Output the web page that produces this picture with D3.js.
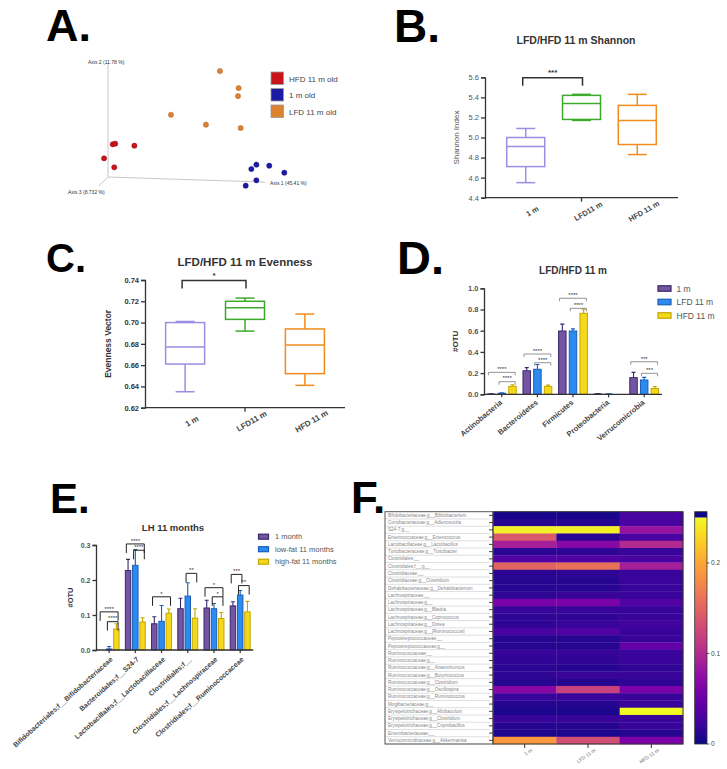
<!DOCTYPE html>
<html><head><meta charset="utf-8">
<script src="https://cdn.jsdelivr.net/npm/d3@7"></script>
<style>body{margin:0;background:#fff}svg{display:block}text{font-family:"Liberation Sans",Arial,Helvetica,sans-serif}</style>
</head><body><svg id="c" width="727" height="769"></svg>
<script>
// ================= DATA =================
// Panel A : PCoA (projected coordinates, fraction of drawn axis length)
const pcoaGroups = ["HFD 11 m old", "1 m old", "LFD 11 m old"];
const pcoaHFD_ax1 = [0.03, 0.046, 0.168, -0.025, 0.04];
const pcoaHFD_ax2 = [0.287, 0.292, 0.275, 0.164, 0.085];
const pcoa1m_ax1 = [0.913, 0.945, 1.027, 1.123, 0.945, 0.877];
const pcoa1m_ax2 = [0.07, 0.108, 0.099, 0.038, -0.029, -0.076];
const pcoaLFD_ax1 = [0.713, 0.832, 0.828, 0.401, 0.624, 0.845];
const pcoaLFD_ax2 = [0.93, 0.78, 0.71, 0.546, 0.459, 0.43];
const pcoaAxisLabels = ["Axis 1 (45.41 %)", "Axis 2 (11.78 %)", "Axis 3 (8.732 %)"];

// Panels B, C : box plots
const alphaGroups = ["1 m", "LFD11 m", "HFD 11 m"];
const shannonMin = [4.55, 5.17, 4.83];
const shannonQ1 = [4.71, 5.18, 4.93];
const shannonMed = [4.91, 5.34, 5.17];
const shannonQ3 = [5.00, 5.42, 5.32];
const shannonMax = [5.09, 5.43, 5.43];
const shannonTicks = [4.4, 4.6, 4.8, 5.0, 5.2, 5.4, 5.6];
const evenMin = [0.635, 0.692, 0.641];
const evenQ1 = [0.661, 0.703, 0.652];
const evenMed = [0.677, 0.714, 0.679];
const evenQ3 = [0.700, 0.720, 0.694];
const evenMax = [0.701, 0.723, 0.708];
const evenTicks = [0.62, 0.64, 0.66, 0.68, 0.70, 0.72, 0.74];

// Panel D : phyla
const phyla = ["Actinobacteria", "Bacteroidetes", "Firmicutes", "Proteobacteria", "Verrucomicrobia"];
const phylaSeries = ["1 m", "LFD 11 m", "HFD 11 m"];
const phylum1m = [0.003, 0.222, 0.597, 0.004, 0.157];
const phylumLFD = [0.010, 0.236, 0.597, 0.003, 0.135];
const phylumHFD = [0.075, 0.075, 0.764, 0.0, 0.055];
const phylum1mErr = [0.002, 0.03, 0.065, 0.002, 0.05];
const phylumLFDErr = [0.005, 0.045, 0.02, 0.002, 0.025];
const phylumHFDErr = [0.015, 0.012, 0.04, 0.0, 0.018];
const phylaTicks = [0, 0.2, 0.4, 0.6, 0.8, 1.0];
// significance: [category, series a, series b, level, label]
const phylaSig = [[0, 0, 2, 0.207, "****"], [0, 1, 2, 0.119, "****"], [1, 0, 2, 0.38, "****"], [1, 1, 2, 0.298, "****"],
  [2, 0, 2, 0.906, "****"], [2, 1, 2, 0.811, "****"], [4, 0, 2, 0.307, "***"], [4, 1, 2, 0.198, "***"]];

// Panel E : families
const families = ["Bifidobacteriales;f__Bifidobacteriaceae", "Bacteroidales;f__S24-7", "Lactobacillales;f__Lactobacillaceae",
  "Clostridiales;f__", "Clostridiales;f__Lachnospiraceae", "Clostridiales;f__Ruminococcaceae"];
const famSeries = ["1 month", "low-fat 11 months", "high-fat 11 months"];
const fam1m = [0.0, 0.227, 0.075, 0.118, 0.12, 0.126];
const famLFD = [0.003, 0.242, 0.082, 0.154, 0.118, 0.157];
const famHFD = [0.06, 0.08, 0.105, 0.091, 0.09, 0.109];
const fam1mErr = [0.0, 0.032, 0.02, 0.03, 0.022, 0.012];
const famLFDErr = [0.007, 0.045, 0.045, 0.038, 0.015, 0.013];
const famHFDErr = [0.015, 0.012, 0.012, 0.027, 0.017, 0.03];
const famTicks = [0.0, 0.1, 0.2, 0.3];
const famSig = [[0, 0, 2, 0.109, "****"], [0, 1, 2, 0.081, "****"], [1, 0, 2, 0.303, "****"], [1, 1, 2, 0.285, "****"],
  [2, 0, 2, 0.152, "*"], [3, 1, 2, 0.219, "**"], [4, 0, 2, 0.178, "*"], [4, 1, 2, 0.152, "*"],
  [5, 0, 1, 0.216, "***"], [5, 1, 2, 0.184, "**"]];

// Panel F : heatmap
const genera = ["Bifidobacteriaceae;g__Bifidobacterium", "Coriobacteriaceae;g__Adlercreutzia", "S24-7;g__",
  "Enterococcaceae;g__Enterococcus", "Lactobacillaceae;g__Lactobacillus", "Turicibacteraceae;g__Turicibacter",
  "Clostridiales;__", "Clostridiales;f__;g__", "Clostridiaceae;__", "Clostridiaceae;g__Clostridium",
  "Dehalobacteriaceae;g__Dehalobacterium", "Lachnospiraceae;__", "Lachnospiraceae;g__", "Lachnospiraceae;g__Blautia",
  "Lachnospiraceae;g__Coprococcus", "Lachnospiraceae;g__Dorea", "Lachnospiraceae;g__[Ruminococcus]",
  "Peptostreptococcaceae;__", "Peptostreptococcaceae;g__", "Ruminococcaceae;__", "Ruminococcaceae;g__",
  "Ruminococcaceae;g__Anaerotruncus", "Ruminococcaceae;g__Butyricicoccus", "Ruminococcaceae;g__Clostridium",
  "Ruminococcaceae;g__Oscillospira", "Ruminococcaceae;g__Ruminococcus", "Mogibacteriaceae;g__",
  "Erysipelotrichaceae;g__Allobaculum", "Erysipelotrichaceae;g__Clostridium", "Erysipelotrichaceae;g__Coprobacillus",
  "Enterobacteriaceae;__", "Verrucomicrobiaceae;g__Akkermansia"];
const heatCols = ["1 m", "LFD 11 m", "HFD 11 m"];
const heat1m = [0.004, 0.01, 0.245, 0.14, 0.09, 0.012, 0.035, 0.15, 0.012, 0.01, 0.01, 0.015, 0.06, 0.02, 0.015, 0.015,
  0.03, 0.01, 0.01, 0.02, 0.015, 0.012, 0.015, 0.01, 0.07, 0.02, 0.01, 0.005, 0.02, 0.01, 0.005, 0.19];
const heatLFD = [0.004, 0.01, 0.245, 0.012, 0.07, 0.015, 0.035, 0.16, 0.015, 0.01, 0.01, 0.02, 0.06, 0.02, 0.015, 0.02,
  0.035, 0.01, 0.01, 0.02, 0.015, 0.01, 0.02, 0.01, 0.12, 0.02, 0.01, 0.005, 0.02, 0.01, 0.005, 0.13];
const heatHFD = [0.03, 0.03, 0.08, 0.03, 0.1, 0.02, 0.03, 0.09, 0.02, 0.02, 0.02, 0.02, 0.035, 0.02, 0.02, 0.025,
  0.02, 0.02, 0.045, 0.02, 0.02, 0.015, 0.02, 0.015, 0.06, 0.02, 0.02, 0.25, 0.02, 0.02, 0.01, 0.06];
const heatTicks = [0, 0.1, 0.2];

// ================= DRAW =================
const svg = d3.select("#c");
const FONT = '"Liberation Sans", Arial, Helvetica, sans-serif';

function letter(t, x, y, s) {
  svg.append("text").attr("x", x).attr("y", y).attr("font-size", s).attr("font-weight", "bold").attr("fill", "#000").text(t);
}
function styleAxis(g, fs, color, bold) {
  g.attr("font-family", FONT);
  g.select(".domain").attr("stroke", "#333").attr("stroke-width", 1.3);
  g.selectAll(".tick line").attr("stroke", "#333").attr("stroke-width", 1.3);
  g.selectAll(".tick text").attr("font-size", fs).attr("fill", color).attr("font-weight", bold ? "bold" : "normal");
}

// ---------- Panel A ----------
letter("A.", 46, 41, 45);
(function () {
  const g = svg.append("g");
  const ax = d3.scaleLinear([0, 1], [108, 265]);
  const ay = d3.scaleLinear([0, 1], [177, 63]);
  const line = (p, q) => g.append("line").attr("x1", ax(p[0])).attr("y1", ay(p[1])).attr("x2", ax(q[0])).attr("y2", ay(q[1]))
    .attr("stroke", "#c8c8c8").attr("stroke-width", 1);
  line([0, 0], [0, 1]); line([0, 0], [1.0, -0.045]); line([0, 0], [-0.06, -0.08]);
  g.append("text").attr("x", 88).attr("y", 64).attr("font-size", 5).attr("fill", "#333").text(pcoaAxisLabels[1]);
  g.append("text").attr("x", 270).attr("y", 185).attr("font-size", 5).attr("fill", "#333").text(pcoaAxisLabels[0]);
  g.append("text").attr("x", 68).attr("y", 194).attr("font-size", 5).attr("fill", "#333").text(pcoaAxisLabels[2]);
  const cols = ["#c8141b", "#1d1aa6", "#dd8230"];
  const sets = [[pcoaHFD_ax1, pcoaHFD_ax2], [pcoa1m_ax1, pcoa1m_ax2], [pcoaLFD_ax1, pcoaLFD_ax2]];
  sets.forEach((s, k) => {
    g.selectAll(null).data(s[0].map((v, i) => [v, s[1][i]])).join("circle")
      .attr("cx", d => ax(d[0])).attr("cy", d => ay(d[1])).attr("r", 2.6)
      .attr("fill", cols[k]).attr("stroke", d3.color(cols[k]).darker(0.8)).attr("stroke-width", 0.5);
  });
  const ly = d3.scalePoint(pcoaGroups, [78.5, 111.5]);
  g.selectAll(null).data(pcoaGroups).join("rect").attr("x", 271).attr("y", d => ly(d) - 6.5).attr("width", 12.5).attr("height", 12.5)
    .attr("fill", (d, i) => cols[i]).attr("stroke", "#999").attr("stroke-width", 0.8);
  g.selectAll(null).data(pcoaGroups).join("text").attr("x", 289).attr("y", d => ly(d) + 3).attr("font-size", 8).attr("fill", "#444").text(d => d);
})();

// ---------- Box plot helper ----------
const boxCols = ["#9a8fe2", "#3daa2c", "#f28c1e"];
function boxPanel(o) {
  const g = svg.append("g");
  const x = d3.scalePoint(alphaGroups, [o.x0, o.x1]).padding(o.pad);
  const y = d3.scaleLinear([o.ticks[0], o.ticks[o.ticks.length - 1]], [o.y0, o.y1]);
  const ya = g.append("g").attr("transform", `translate(${o.x0},0)`)
    .call(d3.axisLeft(y).tickValues(o.ticks).tickFormat(d3.format(o.fmt)).tickSize(4).tickPadding(2));
  styleAxis(ya, o.tfs, o.tcol, o.tbold);
  g.append("line").attr("x1", o.x0).attr("x2", o.x1).attr("y1", o.y0).attr("y2", o.y0).attr("stroke", "#333").attr("stroke-width", 1.3);
  g.append("line").attr("x1", x(alphaGroups[1])).attr("x2", x(alphaGroups[1])).attr("y1", o.y0).attr("y2", o.y0 + 4).attr("stroke", "#333").attr("stroke-width", 1.3);
  const data = alphaGroups.map((c, i) => ({ c, i, mn: o.mn[i], q1: o.q1[i], md: o.md[i], q3: o.q3[i], mx: o.mx[i] }));
  const bg = g.selectAll(null).data(data).join("g").attr("stroke", d => boxCols[d.i]).attr("stroke-width", 1.5).attr("fill", "none");
  const bw = o.bw, cw = o.cw;
  bg.append("line").attr("x1", d => x(d.c)).attr("x2", d => x(d.c)).attr("y1", d => y(d.mn)).attr("y2", d => y(d.q1));
  bg.append("line").attr("x1", d => x(d.c)).attr("x2", d => x(d.c)).attr("y1", d => y(d.q3)).attr("y2", d => y(d.mx));
  bg.append("line").attr("x1", d => x(d.c) - cw / 2).attr("x2", d => x(d.c) + cw / 2).attr("y1", d => y(d.mn)).attr("y2", d => y(d.mn));
  bg.append("line").attr("x1", d => x(d.c) - cw / 2).attr("x2", d => x(d.c) + cw / 2).attr("y1", d => y(d.mx)).attr("y2", d => y(d.mx));
  bg.append("rect").attr("x", d => x(d.c) - bw / 2).attr("width", bw).attr("y", d => y(d.q3)).attr("height", d => y(d.q1) - y(d.q3));
  bg.append("line").attr("x1", d => x(d.c) - bw / 2).attr("x2", d => x(d.c) + bw / 2).attr("y1", d => y(d.md)).attr("y2", d => y(d.md));
  // significance bracket
  const sx1 = x(alphaGroups[0]) - 3, sx2 = x(alphaGroups[1]) + 1, sy = y(o.sigLevel);
  g.append("path").attr("d", `M${sx1},${sy + 8}V${sy}H${sx2}V${sy + 8}`).attr("fill", "none").attr("stroke", "#333").attr("stroke-width", 1.5);
  g.append("text").attr("x", (sx1 + sx2) / 2).attr("y", sy - 3).attr("text-anchor", "middle").attr("font-size", 8).attr("font-weight", "bold").attr("fill", "#333").text(o.sig);
  // x labels
  g.selectAll(null).data(alphaGroups).join("text")
    .attr("transform", d => `translate(${x(d) + 7},${o.y0 + o.lblDy}) rotate(-30)`)
    .attr("text-anchor", "middle").attr("dominant-baseline", "middle").attr("font-size", o.lfs).attr("font-weight", "bold").attr("fill", "#444").text(d => d);
  g.append("text").attr("transform", `translate(${o.ylX},${(o.y0 + o.y1) / 2}) rotate(-90)`).attr("text-anchor", "middle")
    .attr("font-size", o.ylfs).attr("font-weight", o.ylBold ? "bold" : "normal").attr("fill", o.ylBold ? "#333" : "#555").text(o.ylab);
  g.append("text").attr("x", o.titleX).attr("y", o.titleY).attr("text-anchor", "middle").attr("font-size", o.titleFs)
    .attr("font-weight", "bold").attr("fill", "#333").text(o.title);
}

// ---------- Panel B ----------
letter("B.", 394, 42, 46);
boxPanel({ x0: 485, x1: 678, pad: 0.73, y0: 197.7, y1: 77.3, ticks: shannonTicks, fmt: ".1f", tfs: 7.5, tcol: "#555", tbold: false,
  mn: shannonMin, q1: shannonQ1, md: shannonMed, q3: shannonQ3, mx: shannonMax, bw: 38, cw: 19,
  sigLevel: 5.595, sig: "***", lblDy: 14, lfs: 7.5, ylX: 459, ylab: "Shannon Index", ylfs: 8, ylBold: false,
  title: "LFD/HFD 11 m Shannon", titleX: 576, titleY: 44, titleFs: 10.5 });

// ---------- Panel C ----------
letter("C.", 46, 271.5, 40);
boxPanel({ x0: 145, x1: 345, pad: 0.67, y0: 407.7, y1: 280, ticks: evenTicks, fmt: ".2f", tfs: 7.5, tcol: "#333", tbold: true,
  mn: evenMin, q1: evenQ1, md: evenMed, q3: evenQ3, mx: evenMax, bw: 39, cw: 19,
  sigLevel: 0.7395, sig: "*", lblDy: 14, lfs: 8, ylX: 111, ylab: "Evenness Vector", ylfs: 8.5, ylBold: true,
  title: "LFD/HFD 11 m Evenness", titleX: 245, titleY: 266, titleFs: 11.5 });

// ---------- Grouped bar helper ----------
const barFill = ["#7455a3", "#2d8bef", "#f4d81c"];
const barStroke = ["#3a2768", "#1a5db8", "#c4a700"];
function barPanel(o) {
  const g = svg.append("g");
  const x0 = d3.scaleBand(o.cats, [o.x0, o.x1]).paddingInner(0.1).paddingOuter(0.05);
  const x1 = d3.scaleBand([0, 1, 2], [0, x0.bandwidth()]).paddingInner(o.inner).paddingOuter(o.outer);
  const y = d3.scaleLinear([0, o.ticks[o.ticks.length - 1]], [o.y0, o.y1]);
  const ya = g.append("g").attr("transform", `translate(${o.x0},0)`)
    .call(d3.axisLeft(y).tickValues(o.ticks).tickFormat(d3.format(".1f")).tickSize(3.5).tickPadding(2));
  styleAxis(ya, o.tfs, "#555", true);
  const rows = [];
  o.cats.forEach((c, ci) => o.vals.forEach((v, si) => rows.push({ c, si, v: v[ci], e: o.errs[si][ci] })));
  const bx = d => x0(d.c) + x1(d.si);
  g.selectAll(null).data(rows.filter(d => d.e > 0)).join("path")
    .attr("d", d => `M${bx(d) + x1.bandwidth() / 2},${y(d.v)}V${y(d.v + d.e)}M${bx(d) + x1.bandwidth() / 2 - 2},${y(d.v + d.e)}h4`)
    .attr("stroke", d => barStroke[d.si]).attr("stroke-width", 1.1).attr("fill", "none");
  g.selectAll(null).data(rows).join("rect").attr("x", d => bx(d)).attr("width", x1.bandwidth())
    .attr("y", d => y(d.v)).attr("height", d => y(0) - y(d.v))
    .attr("fill", d => barFill[d.si]).attr("stroke", d => barStroke[d.si]).attr("stroke-width", 1);
  g.append("line").attr("x1", o.x0).attr("x2", o.x1).attr("y1", o.y0).attr("y2", o.y0).attr("stroke", "#333").attr("stroke-width", 1.3);
  const tickX = c => x0(c) + x1(1) + x1.bandwidth() / 2;
  g.selectAll(null).data(o.cats).join("line").attr("x1", tickX).attr("x2", tickX).attr("y1", o.y0).attr("y2", o.y0 + 3)
    .attr("stroke", "#333").attr("stroke-width", 1.2);
  g.selectAll(null).data(o.cats).join("text")
    .attr("transform", c => `translate(${tickX(c) + o.ldx},${o.y0 + o.ldy}) rotate(${o.rot})`)
    .attr("text-anchor", "end").attr("font-size", o.lfs).attr("font-weight", "bold").attr("fill", "#444").text(c => c);
  // significance
  const sg = g.selectAll(null).data(o.sig).join("g");
  sg.append("path").attr("d", s => {
    const a = x0(o.cats[s[0]]) + x1(s[1]) + 1, b = x0(o.cats[s[0]]) + x1(s[2]) + x1.bandwidth() - 1, yy = y(s[3]);
    return `M${a},${yy + o.leg}V${yy}H${b}V${yy + o.leg}`;
  }).attr("fill", "none").attr("stroke", o.sigCol).attr("stroke-width", o.sigW);
  sg.append("text").attr("x", s => (x0(o.cats[s[0]]) + x1(s[1]) + x0(o.cats[s[0]]) + x1(s[2]) + x1.bandwidth()) / 2)
    .attr("y", s => y(s[3]) - 1.2).attr("text-anchor", "middle").attr("font-size", o.sfs).attr("fill", "#333").text(s => s[4]);
  // y label, title, legend
  g.append("text").attr("transform", `translate(${o.ylX},${(o.y0 + o.y1) / 2}) rotate(-90)`).attr("text-anchor", "middle")
    .attr("font-size", o.ylfs).attr("font-weight", "bold").attr("fill", "#333").text("#OTU");
  g.append("text").attr("x", o.titleX).attr("y", o.titleY).attr("text-anchor", "middle").attr("font-size", o.titleFs)
    .attr("font-weight", "bold").attr("fill", "#333").text(o.title);
  const ly = d3.scalePoint(o.series, [o.legY0, o.legY1]);
  g.selectAll(null).data(o.series).join("rect").attr("x", o.legX).attr("y", d => ly(d) - o.swH / 2).attr("width", o.swW).attr("height", o.swH)
    .attr("fill", (d, i) => barFill[i]).attr("stroke", (d, i) => barStroke[i]).attr("stroke-width", 1.2);
  g.selectAll(null).data(o.series).join("text").attr("x", o.legX + o.swW + o.legGap).attr("y", d => ly(d) + o.legFs * 0.36)
    .attr("font-size", o.legFs).attr("fill", "#555").text(d => d);
}

// ---------- Panel D ----------
letter("D.", 397, 274, 47);
barPanel({ cats: phyla, series: phylaSeries, vals: [phylum1m, phylumLFD, phylumHFD], errs: [phylum1mErr, phylumLFDErr, phylumHFDErr],
  x0: 484, x1: 662, y0: 394.3, y1: 288.3, ticks: phylaTicks, inner: 0.3, outer: 0.15, tfs: 7.5,
  ldx: 1, ldy: 9, rot: -40, lfs: 7.5, sig: phylaSig, leg: 3, sigCol: "#888", sigW: 0.9, sfs: 6,
  ylX: 458, ylfs: 8, title: "LFD/HFD 11 m", titleX: 573, titleY: 274, titleFs: 10,
  legX: 658, legY0: 288.5, legY1: 315.5, swW: 13, swH: 5.5, legGap: 5.5, legFs: 8.5 });

// ---------- Panel E ----------
letter("E.", 50, 513, 42);
barPanel({ cats: families, series: famSeries, vals: [fam1m, famLFD, famHFD], errs: [fam1mErr, famLFDErr, famHFDErr],
  x0: 96, x1: 253.3, y0: 650, y1: 545, ticks: famTicks, inner: 0.25, outer: 0.25, tfs: 7,
  ldx: 4, ldy: 10, rot: -42, lfs: 7, sig: famSig, leg: 9, sigCol: "#222", sigW: 1, sfs: 6,
  ylX: 73, ylfs: 7.5, title: "LH 11 months", titleX: 173, titleY: 531, titleFs: 9.5,
  legX: 258.5, legY0: 536.7, legY1: 561.7, swW: 10, swH: 5, legGap: 6.5, legFs: 7.5 });

// ---------- Panel F ----------
letter("F.", 351, 513, 44);
(function () {
  const g = svg.append("g");
  const x = d3.scaleBand(heatCols, [493, 683]);
  const y = d3.scaleBand(genera, [511.7, 744]);
  const color = d3.scaleSequential(d3.interpolatePlasma).domain([0, 0.25]);
  const cells = [];
  genera.forEach((gname, i) => [heat1m, heatLFD, heatHFD].forEach((arr, j) => cells.push({ r: gname, c: heatCols[j], v: arr[i] })));
  g.selectAll(null).data(cells).join("rect").attr("x", d => x(d.c)).attr("y", d => y(d.r))
    .attr("width", x.bandwidth() + 0.3).attr("height", y.bandwidth() + 0.3).attr("fill", d => color(d.v));
  g.append("rect").attr("x", 493).attr("y", 511.7).attr("width", 190).attr("height", 232.3).attr("fill", "none").attr("stroke", "#333").attr("stroke-width", 1);
  // label box
  g.selectAll(null).data(genera).join("line").attr("x1", 385).attr("x2", 490).attr("y1", d => y(d) + y.bandwidth()).attr("y2", d => y(d) + y.bandwidth())
    .attr("stroke", "#c8c8c8").attr("stroke-width", 0.6);
  g.append("rect").attr("x", 385).attr("y", 511.7).attr("width", 108).attr("height", 232.3).attr("fill", "none").attr("stroke", "#555").attr("stroke-width", 1);
  g.selectAll(null).data(genera).join("line").attr("x1", 489).attr("x2", 493).attr("y1", d => y(d) + y.bandwidth() / 2).attr("y2", d => y(d) + y.bandwidth() / 2)
    .attr("stroke", "#333").attr("stroke-width", 0.9);
  g.selectAll(null).data(genera).join("text").attr("x", 388).attr("y", d => y(d) + y.bandwidth() / 2 + 1.6)
    .attr("font-size", 4.6).attr("fill", "#888").text(d => d);
  // x ticks + labels
  g.selectAll(null).data(heatCols).join("line").attr("x1", d => x(d) + x.bandwidth() / 2).attr("x2", d => x(d) + x.bandwidth() / 2)
    .attr("y1", 744).attr("y2", 748).attr("stroke", "#333").attr("stroke-width", 1);
  g.selectAll(null).data(heatCols).join("text")
    .attr("transform", d => `translate(${x(d) + x.bandwidth() / 2 + 8},${751}) rotate(-35)`)
    .attr("text-anchor", "end").attr("font-size", 5).attr("fill", "#666").text(d => d);
  // colorbar
  const cy = d3.scaleLinear([0, 0.25], [744, 517.7]);
  const defs = svg.append("defs");
  const grad = defs.append("linearGradient").attr("id", "pl").attr("x1", 0).attr("x2", 0).attr("y1", 1).attr("y2", 0);
  d3.range(0, 1.0001, 0.05).forEach(t => grad.append("stop").attr("offset", t).attr("stop-color", d3.interpolatePlasma(t)));
  g.append("rect").attr("x", 694.7).attr("y", 511.7).attr("width", 12.3).attr("height", cy(0.25) - 511.7).attr("fill", "#0d0887");
  g.append("rect").attr("x", 694.7).attr("y", cy(0.25)).attr("width", 12.3).attr("height", cy(0) - cy(0.25)).attr("fill", "url(#pl)");
  g.append("rect").attr("x", 694.7).attr("y", 511.7).attr("width", 12.3).attr("height", 232.3).attr("fill", "none").attr("stroke", "#333").attr("stroke-width", 0.8);
  g.selectAll(null).data(heatTicks).join("line").attr("x1", 707).attr("x2", 709.5).attr("y1", d => cy(d)).attr("y2", d => cy(d)).attr("stroke", "#333").attr("stroke-width", 0.8);
  g.selectAll(null).data(heatTicks).join("text").attr("x", 711).attr("y", d => cy(d) + 2.2).attr("font-size", 6.5).attr("fill", "#444")
    .text(d => d3.format("~g")(d));
})();
</script></body></html>
